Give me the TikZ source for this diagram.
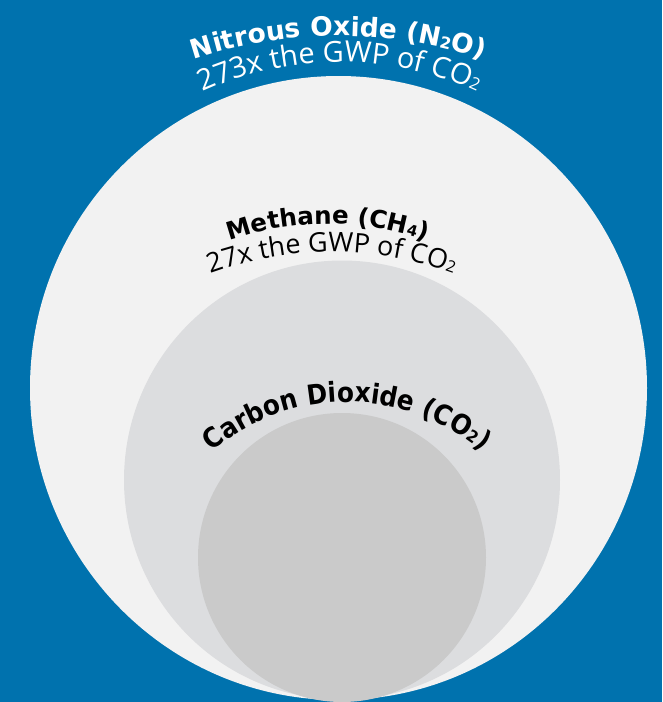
\documentclass[tikz,border=0pt]{standalone}
\usepackage{fontspec}
\usetikzlibrary{decorations.text}

\newfontfamily\headfont{DejaVu Sans}
\newfontfamily\headnarrow{DejaVu Sans}[FakeStretch=0.9]
\newfontfamily\bodyfont{Open Sans}

\definecolor{bgblue}{HTML}{0072AE}
\definecolor{ringouter}{HTML}{F2F2F2}
\definecolor{ringmiddle}{HTML}{DCDDDF}
\definecolor{ringinner}{HTML}{CACACA}

% font switches for the curved labels
\newcommand\hdA{\headfont\bfseries\fontsize{26.5}{30}\selectfont}
\newcommand\hdAs{\headfont\bfseries\fontsize{16}{18}\selectfont}
\newcommand\hdB{\headfont\bfseries\fontsize{24.5}{28}\selectfont}
\newcommand\hdBs{\headfont\bfseries\fontsize{15}{17}\selectfont}
\newcommand\hdC{\headnarrow\bfseries\fontsize{27.5}{31}\selectfont}
\newcommand\hdCs{\headnarrow\bfseries\fontsize{16.5}{18}\selectfont}
\newcommand\sbA{\bodyfont\fontsize{29}{32}\selectfont}
\newcommand\sbAs{\bodyfont\fontsize{17}{19}\selectfont}
\newcommand\sbB{\bodyfont\fontsize{27}{30}\selectfont}
\newcommand\sbBs{\bodyfont\fontsize{16}{18}\selectfont}
\protected\def\dropdigit#1{\raisebox{-4pt}{#1}}

\tikzset{
  curvedlabel/.style={decorate,
    decoration={text along path, text align=center, text color=#1}},
}

\begin{document}
\begin{tikzpicture}[x=1pt, y=-1pt]
  % background
  \fill[bgblue] (0,0) rectangle (662,702);
  \useasboundingbox (0,0) rectangle (662,702);

  % nested circles, all touching near the bottom edge
  \fill[ringouter]  (338.5,388) ellipse [x radius=308.5, y radius=312];
  \fill[ringmiddle] (342,480)   ellipse [x radius=218, y radius=219.5];
  \fill[ringinner]  (342,557.5) ellipse [x radius=144, y radius=144.5];

  % Nitrous oxide labels
  \path[curvedlabel=white,
        decoration={text={|\hdA|Nitrous Oxide (N|\hdAs|2|\hdA|O)}}]
    (338.5,496) ++(-140:460) arc[start angle=-140, end angle=-40, radius=460];
  \path[curvedlabel=white,
        decoration={text={|\sbA|273x the GWP of CO|\sbAs\dropdigit|2}}]
    (340,392) ++(-145:330) arc[start angle=-145, end angle=-35, radius=330];

  % Methane labels
  \path[curvedlabel=black,
        decoration={text={|\hdB|Methane (CH|\hdBs|4|\hdB|)}}]
    (328,524) ++(-140:300) arc[start angle=-140, end angle=-40, radius=300];
  \path[curvedlabel=black,
        decoration={text={|\sbB|27x the GWP of CO|\sbBs\dropdigit|2}}]
    (332,607) ++(-140:355) arc[start angle=-140, end angle=-40, radius=355];

  % Carbon dioxide label
  \path[curvedlabel=black,
        decoration={text={|\hdC|Carbon Dioxide (CO|\hdCs|2|\hdC|)}}]
    (347,612) ++(-170:210) arc[start angle=-170, end angle=-10, radius=210];
\end{tikzpicture}
\end{document}
